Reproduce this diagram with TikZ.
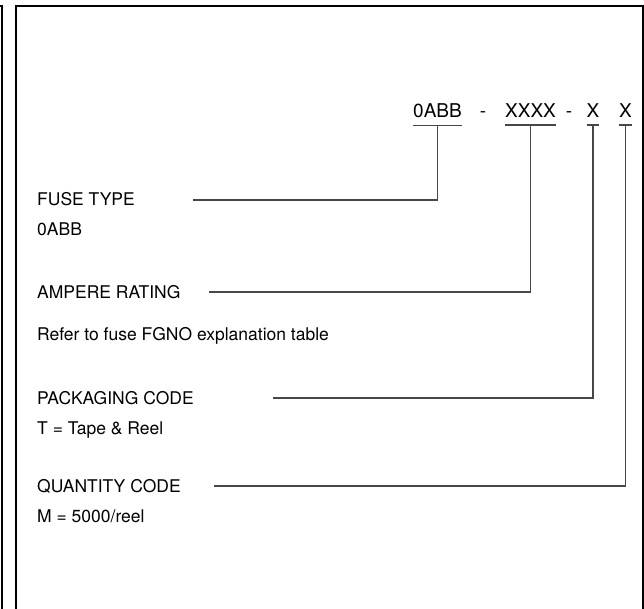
\documentclass[tikz,border=0pt]{standalone}
\usepackage{fontspec}
\setmainfont{TeX Gyre Heros}
\usepackage{tikz}

\begin{document}
\begin{tikzpicture}[%show background rectangle,
        x=1pt, y=-1pt,
        rahmen/.style={draw=black, line width=2pt},
        leiter/.style={draw=black!72, line width=1.3pt},
        code/.style={anchor=base, inner xsep=0pt, inner ysep=7pt, outer sep=0pt,
            font=\fontsize{19}{22}\selectfont},
        titel/.style={anchor=base west, inner sep=0pt,
            font=\fontsize{17.5}{21}\selectfont}
        ]
            \useasboundingbox (0,0) rectangle (644,609);

            % Rahmen
            \draw [rahmen] (0,6) -- (2,6) -- (2,609);
            \draw [rahmen] (16,609) -- (16,6) -- (643,6) -- (643,609);

            % Bestellcode
            \node [code] (C1) at (437.5,118) {0ABB};
            \node [code] (D1) at (483,118) {-};
            \node [code] (C2) at (530.5,118) {XXXX};
            \node [code] (D2) at (569,118) {-};
            \node [code] (C3) at (593,118) {X};
            \node [code] (C4) at (625.5,118) {X};

            % Beschriftungen
            \node [titel] (FT)  at (37,206) {FUSE TYPE};
            \node [titel] (FTw) at (37,236) {0ABB};
            \node [titel] (AR)  at (37,298) {AMPERE RATING};
            \node [titel] (ARw) at (37,340) {Refer to fuse FGNO explanation table};
            \node [titel] (PC)  at (37,404) {PACKAGING CODE};
            \node [titel] (PCw) at (37,434) {T = Tape \& Reel};
            \node [titel] (QC)  at (37,492) {QUANTITY CODE};
            \node [titel] (QCw) at (37,522) {M = 5000/reel};

            % Leiter
            \coordinate (FTl) at (193,200);
            \coordinate (ARl) at (209,292);
            \coordinate (PCl) at (273,398);
            \coordinate (QCl) at (214,486);

            \foreach \c in {C1,C2,C3,C4}
                \draw [leiter] (\c.south west) -- (\c.south east);

            \draw [leiter] (C1.south) |- (FTl);
            \draw [leiter] (C2.south) |- (ARl);
            \draw [leiter] (C3.south) |- (PCl);
            \draw [leiter] (C4.south) |- (QCl);
        \end{tikzpicture}
\end{document}
